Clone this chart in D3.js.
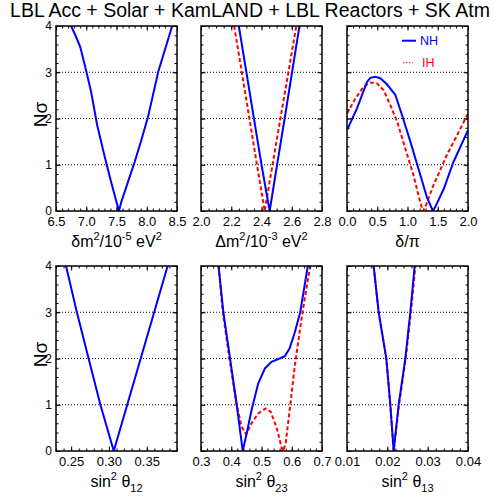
<!DOCTYPE html>
<html>
<head>
<meta charset="utf-8">
<script src="https://cdn.jsdelivr.net/npm/d3@7"></script>
<style>
  body { margin: 0; background: #fff; }
  svg { display: block; font-family: "Liberation Sans", Arial, Helvetica, sans-serif; }
</style>
</head>
<body>
<svg width="495" height="504"></svg>
<script>
// ---- data (N sigma vs parameter) ----
const titleText = "LBL Acc + Solar + KamLAND + LBL Reactors + SK Atm";
const nsigTicks = [0, 1, 2, 3, 4];
const gridLevels = [1, 2, 3];

// delta m^2_21 (10^-5 eV^2)
const dm21X = [6.75, 6.82, 6.90, 6.99, 7.08, 7.18, 7.30, 7.41, 7.54, 7.58, 7.69, 7.80, 7.91, 8.02, 8.19, 8.42];
const dm21NH = [4.0, 3.8, 3.55, 3.08, 2.58, 1.86, 1.2, 0.63, 0.0, 0.2, 0.63, 1.06, 1.53, 2.03, 3.01, 4.0];

// Delta m^2_32 (10^-3 eV^2)
const dm32XNH = [2.25, 2.30, 2.35, 2.40, 2.454, 2.503, 2.553, 2.602, 2.651];
const dm32NH = [4, 3, 2, 1, 0, 1, 2, 3, 4];
const dm32XIH = [2.219, 2.27, 2.32, 2.37, 2.421, 2.473, 2.525, 2.578, 2.63];
const dm32IH = [4, 3, 2, 1, 0, 1, 2, 3, 4];

// delta_CP / pi
const dcpXNH = [0, 0.165, 0.33, 0.386, 0.468, 0.55, 0.66, 0.80, 0.91, 1.05, 1.18, 1.32, 1.42, 1.46, 1.60, 1.76, 2.0];
const dcpNH = [1.75, 2.22, 2.79, 2.88, 2.90, 2.87, 2.74, 2.51, 2.07, 1.49, 0.92, 0.30, 0, 0.09, 0.48, 1.06, 1.75];
const dcpXIH = [0, 0.138, 0.275, 0.386, 0.496, 0.606, 0.716, 0.83, 0.964, 1.10, 1.21, 1.256, 1.295, 1.43, 1.65, 1.82, 2.0];
const dcpIH = [2.11, 2.43, 2.69, 2.78, 2.76, 2.61, 2.29, 1.93, 1.35, 0.77, 0.19, 0, 0.09, 0.56, 1.21, 1.64, 2.11];

// sin^2 theta_12
const s12X = [0.2433, 0.2576, 0.2731, 0.2887, 0.3064, 0.3242, 0.342, 0.3598, 0.3776];
const s12NH = [4, 3, 2, 1, 0, 1, 2, 3, 4];

// sin^2 theta_23
const s23XNH = [0.358, 0.374, 0.396, 0.418, 0.438, 0.451, 0.467, 0.489, 0.511, 0.533, 0.560, 0.577, 0.593, 0.609, 0.628, 0.653];
const s23NH = [4, 3, 2, 1, 0, 0.38, 0.88, 1.46, 1.78, 1.93, 2.0, 2.05, 2.22, 2.54, 3.0, 4];
const s23XIH = [0.358, 0.372, 0.394, 0.418, 0.434, 0.449, 0.467, 0.489, 0.514, 0.53, 0.549, 0.566, 0.571, 0.58, 0.593, 0.609, 0.626, 0.642, 0.661];
const s23IH = [4, 3, 2, 1, 0.53, 0.36, 0.6, 0.81, 0.92, 0.85, 0.53, 0.09, 0, 0.17, 0.88, 1.78, 2.58, 3.26, 4];

// sin^2 theta_13
const s13XNH = [0.01661, 0.01785, 0.01975, 0.02074, 0.02157, 0.0228, 0.02446, 0.0257, 0.02678];
const s13NH = [4, 3, 2, 1, 0, 1, 2, 3, 4];
const s13XIH = [0.01661, 0.01785, 0.01975, 0.02074, 0.02157, 0.0229, 0.02455, 0.02585, 0.02695];
const s13IH = [4, 3, 2, 1, 0, 1, 2, 3, 4];

// ---- layout ----
const colX = [56, 201, 347], pw = 121;
const rowY = [26, 266], ph = 185;
const FONT = "Liberation Sans, Arial, Helvetica, sans-serif";

const panels = [
  { col: 0, row: 0, domain: [6.5, 8.5], major: 0.5, minor: 0.1, fmt: ".1f",
    title: [["δm"], ["2", "sup"], ["/10"], ["-5", "sup"], [" eV"], ["2", "sup"]],
    curves: [{ x: dm21X, y: dm21NH, h: "NH" }] },
  { col: 1, row: 0, domain: [2.0, 2.8], major: 0.2, minor: 0.05, fmt: ".1f",
    title: [["Δm"], ["2", "sup"], ["/10"], ["-3", "sup"], [" eV"], ["2", "sup"]],
    curves: [{ x: dm32XIH, y: dm32IH, h: "IH" }, { x: dm32XNH, y: dm32NH, h: "NH" }] },
  { col: 2, row: 0, domain: [0, 2], major: 0.5, minor: 0.1, fmt: ".1f",
    title: [["δ/π"]], legend: true,
    curves: [{ x: dcpXIH, y: dcpIH, h: "IH" }, { x: dcpXNH, y: dcpNH, h: "NH" }] },
  { col: 0, row: 1, domain: [0.23, 0.39], major: 0.05, minor: 0.01, fmt: ".2f", start: 0.25,
    title: [["sin"], ["2", "sup"], [" θ"], ["12", "sub"]],
    curves: [{ x: s12X, y: s12NH, h: "NH" }] },
  { col: 1, row: 1, domain: [0.3, 0.7], major: 0.1, minor: 0.02, fmt: ".1f",
    title: [["sin"], ["2", "sup"], [" θ"], ["23", "sub"]],
    curves: [{ x: s23XIH, y: s23IH, h: "IH" }, { x: s23XNH, y: s23NH, h: "NH" }] },
  { col: 2, row: 1, domain: [0.01, 0.04], major: 0.01, minor: 0.002, fmt: ".2f",
    title: [["sin"], ["2", "sup"], [" θ"], ["13", "sub"]],
    curves: [{ x: s13XIH, y: s13IH, h: "IH" }, { x: s13XNH, y: s13NH, h: "NH" }] }
];

const style = {
  NH: { color: "#0000ff", dash: null },
  IH: { color: "#ff0000", dash: "4,2.5" }
};

function stepTicks(a, b, step) {
  const out = [];
  const n = Math.round((b - a) / step);
  for (let i = 0; i <= n; i++) out.push(+(a + i * step).toFixed(6));
  return out;
}

const svg = d3.select("svg");

// Title
svg.append("text")
  .attr("x", 250).attr("y", 17)
  .attr("text-anchor", "middle")
  .attr("font-size", 19.5)
  .text(titleText);

panels.forEach((p, i) => {
  const g = svg.append("g")
    .attr("transform", `translate(${colX[p.col]},${rowY[p.row]})`);

  const x = d3.scaleLinear().domain(p.domain).range([0, pw]);
  const y = d3.scaleLinear().domain([0, 4]).range([ph, 0]);

  // dotted grid
  g.selectAll(".grid").data(gridLevels).join("line")
    .attr("x1", 0).attr("x2", pw)
    .attr("y1", d => y(d)).attr("y2", d => y(d))
    .attr("stroke", "#000").attr("stroke-width", 1)
    .attr("stroke-dasharray", "1,2");

  // clip for curves
  svg.append("clipPath").attr("id", "clip" + i)
    .append("rect").attr("width", pw).attr("height", ph);

  const line = d3.line().x(d => x(d[0])).y(d => y(d[1]));
  const cg = g.append("g").attr("clip-path", `url(#clip${i})`);
  p.curves.forEach(c => {
    const pts = c.x.map((v, k) => [v, c.y[k]]);
    cg.append("path")
      .attr("d", line(pts))
      .attr("fill", "none")
      .attr("stroke", style[c.h].color)
      .attr("stroke-width", 2)
      .attr("stroke-dasharray", style[c.h].dash);
  });

  // axes: ticks inside on all four sides
  const majorX = stepTicks(p.start !== undefined ? p.start : p.domain[0],
    p.domain[1] + 1e-9, p.major).filter(v => v <= p.domain[1] + 1e-9);
  const minorX = stepTicks(p.domain[0], p.domain[1], p.minor);
  const minorY = stepTicks(0, 4, 0.2);

  const setFont = (sel, fs) => sel.attr("font-family", FONT).attr("font-size", fs || 13)
    .call(s => s.select(".domain").remove());

  g.append("g").attr("transform", `translate(0,${ph})`)
    .call(d3.axisBottom(x).tickValues(minorX).tickSize(-2.5).tickFormat(""))
    .call(setFont);
  g.append("g").attr("transform", `translate(0,${ph})`)
    .call(d3.axisBottom(x).tickValues(majorX).tickSize(-4.5).tickPadding(6)
      .tickFormat(d3.format(p.fmt)))
    .call(setFont);
  g.append("g")
    .call(d3.axisTop(x).tickValues(minorX).tickSize(-2.5).tickFormat(""))
    .call(setFont);
  g.append("g")
    .call(d3.axisTop(x).tickValues(majorX).tickSize(-4.5).tickFormat(""))
    .call(setFont);

  g.append("g")
    .call(d3.axisLeft(y).tickValues(minorY).tickSize(-2.5).tickFormat(""))
    .call(setFont);
  g.append("g")
    .call(d3.axisLeft(y).tickValues(nsigTicks).tickSize(-4.5).tickPadding(4)
      .tickFormat(p.col === 0 ? d3.format("d") : ""))
    .call(setFont, 12);
  g.append("g").attr("transform", `translate(${pw},0)`)
    .call(d3.axisRight(y).tickValues(minorY).tickSize(-2.5).tickFormat(""))
    .call(setFont);
  g.append("g").attr("transform", `translate(${pw},0)`)
    .call(d3.axisRight(y).tickValues(nsigTicks).tickSize(-4.5).tickFormat(""))
    .call(setFont);

  // frame
  g.append("rect")
    .attr("width", pw).attr("height", ph)
    .attr("fill", "none").attr("stroke", "#000").attr("stroke-width", 1.5);

  // x axis title
  const t = g.append("text")
    .attr("x", pw / 2).attr("y", ph + 36)
    .attr("text-anchor", "middle")
    .attr("font-size", 16);
  let shift = 0;
  p.title.forEach(([s, kind]) => {
    let target = 0, fs = 16;
    if (kind === "sup") { target = -7; fs = 11; }
    if (kind === "sub") { target = 5; fs = 11; }
    t.append("tspan").attr("dy", target - shift).attr("font-size", fs).text(s);
    shift = target;
  });

  // y axis title
  if (p.col === 0) {
    svg.append("text")
      .attr("transform", `translate(47,${rowY[p.row] + ph / 2 - 4}) rotate(-90)`)
      .attr("text-anchor", "middle")
      .attr("font-size", 19)
      .text("Nσ");
  }

  // legend
  if (p.legend) {
    const lg = g.append("g");
    lg.append("line").attr("x1", 55).attr("x2", 69).attr("y1", 14.7).attr("y2", 14.7)
      .attr("stroke", style.NH.color).attr("stroke-width", 2);
    lg.append("text").attr("x", 73).attr("y", 19).attr("font-size", 12.5)
      .attr("fill", style.NH.color).text("NH");
    lg.append("line").attr("x1", 56).attr("x2", 66).attr("y1", 36.7).attr("y2", 36.7)
      .attr("stroke", style.IH.color).attr("stroke-width", 1)
      .attr("stroke-dasharray", "1.5,1.5");
    lg.append("text").attr("x", 75).attr("y", 41).attr("font-size", 12.5)
      .attr("fill", style.IH.color).text("IH");
  }
});
</script>
</body>
</html>
